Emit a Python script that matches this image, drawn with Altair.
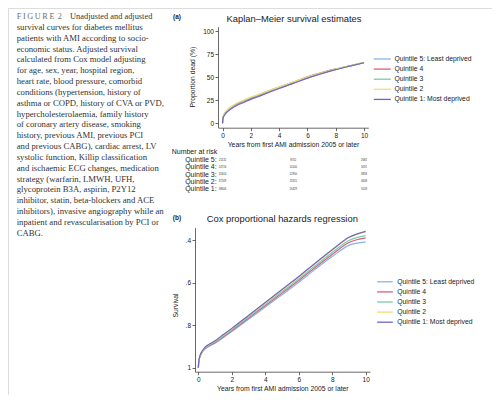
import altair as alt
import pandas as pd

# ---------------- text ----------------
caption_head = "F\u2009I\u2009G\u2009U\u2009R\u2009E\u2009\u20092"
caption_first = "Unadjusted and adjusted"
caption_lines = [
    "survival curves for diabetes mellitus",
    "patients with AMI according to socio-",
    "economic status. Adjusted survival",
    "calculated from Cox model adjusting",
    "for age, sex, year, hospital region,",
    "heart rate, blood pressure, comorbid",
    "conditions (hypertension, history of",
    "asthma or COPD, history of CVA or PVD,",
    "hypercholesterolaemia, family history",
    "of coronary artery disease, smoking",
    "history, previous AMI, previous PCI",
    "and previous CABG), cardiac arrest, LV",
    "systolic function, Killip classification",
    "and ischaemic ECG changes, medication",
    "strategy (warfarin, LMWH, UFH,",
    "glycoprotein B3A, aspirin, P2Y12",
    "inhibitor, statin, beta-blockers and ACE",
    "inhibitors), invasive angiography while an",
    "inpatient and revascularisation by PCI or",
    "CABG.",
]
title_a = "Kaplan\u2013Meier survival estimates"
title_b = "Cox proportional hazards regression"
xtitle = "Years from first AMI admission 2005 or later"

quintiles = ["Quintile 5: Least deprived", "Quintile 4", "Quintile 3",
             "Quintile 2", "Quintile 1: Most deprived"]
colors = ["#84b5ea", "#d8607e", "#7bcba6", "#f2dd76", "#7366c0"]

# ---------------- KM (proportion dead, %) ----------------
km_t = [0, 0.01, 0.05, 0.1, 0.2, 0.35, 0.5, 0.75, 1, 1.5, 2, 2.5, 3, 4, 5, 6, 7, 8, 9, 10]
km_q5 = [0, 3, 6.8, 8.7, 11.2, 13.7, 15.7, 18.1, 20.3, 23.6, 26.9, 29.6, 32.6, 38.4, 43.7, 49.2, 54.0, 58.3, 62.1, 65.7]
km_q4 = [0, 3, 7.1, 9.2, 11.8, 14.3, 16.3, 18.8, 21.0, 24.3, 27.6, 30.3, 33.4, 39.2, 44.6, 50.3, 54.9, 58.9, 62.4, 65.8]
km_q3 = [0, 3, 7.2, 9.3, 11.9, 14.5, 16.6, 19.1, 21.3, 24.6, 27.9, 30.6, 33.6, 39.3, 44.5, 49.9, 54.5, 58.7, 62.3, 66.0]
km_q2 = [0, 3, 7.3, 9.5, 12.2, 14.8, 16.9, 19.4, 21.7, 25.0, 28.3, 31.0, 33.9, 39.5, 44.7, 50.0, 54.7, 58.8, 62.4, 65.9]
km_q1 = [0, 2.5, 6.0, 7.8, 10.2, 12.6, 14.5, 17.0, 19.2, 22.5, 25.9, 28.7, 31.8, 37.7, 43.2, 48.9, 53.8, 58.1, 61.9, 65.6]

# ---------------- Cox adjusted survival ----------------
cox_t = [0, 0.02, 0.05, 0.1, 0.2, 0.35, 0.5, 0.75, 1, 1.5, 2, 3, 4, 5, 6, 7, 8, 9, 10]
cox_q5 = [1, 0.976, 0.962, 0.948, 0.931, 0.916, 0.906, 0.895, 0.885, 0.858, 0.830, 0.772, 0.715, 0.657, 0.598, 0.536, 0.477, 0.424, 0.408]
cox_q4 = [1, 0.976, 0.961, 0.946, 0.929, 0.914, 0.903, 0.892, 0.881, 0.854, 0.825, 0.766, 0.708, 0.649, 0.590, 0.527, 0.467, 0.411, 0.389]
cox_q3 = [1, 0.975, 0.960, 0.945, 0.928, 0.912, 0.901, 0.889, 0.878, 0.850, 0.821, 0.761, 0.702, 0.642, 0.582, 0.519, 0.458, 0.401, 0.378]
cox_q2 = [1, 0.975, 0.959, 0.944, 0.926, 0.910, 0.898, 0.886, 0.874, 0.845, 0.816, 0.755, 0.695, 0.634, 0.573, 0.509, 0.447, 0.388, 0.361]
cox_q1 = [1, 0.975, 0.959, 0.943, 0.926, 0.909, 0.897, 0.885, 0.873, 0.844, 0.815, 0.754, 0.693, 0.632, 0.571, 0.507, 0.445, 0.386, 0.358]

# ---------------- Number at risk ----------------
risk_labels = ["Quintile 5:", "Quintile 4:", "Quintile 3:", "Quintile 2:", "Quintile 1:"]
risk_times = [0, 5, 10]
risk_q5 = [21132, 8702, 2682]
risk_q4 = [24716, 10100, 3091]
risk_q3 = [31604, 12900, 3858]
risk_q2 = [37209, 15315, 4608]
risk_q1 = [38606, 16329, 5018]

# ---------------- tables ----------------
def long(ts, series):
    rows = []
    for q, vals in zip(quintiles, series):
        for t, v in zip(ts, vals):
            rows.append({"t": t, "v": v, "q": q})
    return pd.DataFrame(rows)

km_df = long(km_t, [km_q5, km_q4, km_q3, km_q2, km_q1])
cox_df = long(cox_t, [cox_q5, cox_q4, cox_q3, cox_q2, cox_q1])
risk_rows = []
for lab, vals in zip(risk_labels, [risk_q5, risk_q4, risk_q3, risk_q2, risk_q1]):
    for t, n in zip(risk_times, vals):
        risk_rows.append({"row": lab, "t": t, "n": str(n)})
risk_df = pd.DataFrame(risk_rows)
lab_df = pd.DataFrame({"row": risk_labels})
one = pd.DataFrame({"a": [0]})

FONT = "Liberation Sans"
SERIF = "Liberation Serif"
AX = dict(domainColor="#444", tickColor="#444", domainWidth=0.8, tickWidth=0.8,
          tickSize=3, labelFontSize=6.5, labelColor="#222", labelPadding=1.5,
          labelFont=FONT, titleFont=FONT, titleFontSize=6.8, titleFontWeight="normal",
          titleColor="#222", grid=False, labelFlush=False, labelOverlap=False,
          titleAlign="center", titleBaseline="middle")

def legend(x, y, size, off, rowpad):
    return alt.Legend(orient="none", legendX=x, legendY=y, title=None,
                      symbolType="M-1.8,0L1.8,0", symbolSize=size, symbolStrokeWidth=1.3,
                      labelFontSize=6.8, labelFont=FONT, labelColor="#222",
                      labelOffset=off, rowPadding=rowpad, padding=0)

# ---------------- layers ----------------
cap_head = alt.Chart(one).mark_text(align="left", baseline="alphabetic", font=SERIF,
                                    fontSize=8.2, color="#6e6e6e").encode(
    x=alt.value(8.7), y=alt.value(11.2), text=alt.value(caption_head))
cap_first = alt.Chart(one).mark_text(align="left", baseline="alphabetic", font=SERIF,
                                     fontSize=8.4, color="#333").encode(
    x=alt.value(62), y=alt.value(11.2), text=alt.value(caption_first))
cap_rest = alt.Chart(one).mark_text(align="left", baseline="alphabetic", font=SERIF,
                                    fontSize=8.7, lineHeight=10.83, color="#333").encode(
    x=alt.value(8.7), y=alt.value(22.0), text=alt.value(caption_lines))

def ttl(txt, x, y, size=9.4, bold=False):
    return alt.Chart(one).mark_text(align="center", baseline="middle", font=FONT, fontSize=size,
                                    fontWeight="bold" if bold else "normal", color="#222").encode(
        x=alt.value(x), y=alt.value(y), text=alt.value(txt))

t_a = ttl(title_a, 286, 11.3)
t_b = ttl(title_b, 274.3, 211.3)
lab_a = ttl("(a)", 169, 8.7, 6.5, True)
lab_b = ttl("(b)", 169, 210.3, 6.5, True)

km = alt.Chart(km_df).mark_line(strokeWidth=1.2, interpolate="monotone").encode(
    x=alt.X("t:Q", scale=alt.Scale(domain=[-0.3, 10.3], range=[210.3, 360.3], nice=False, zero=False),
            axis=alt.Axis(orient="bottom", offset=-267.3, values=[0, 2, 4, 6, 8, 10],
                          title=xtitle, titleX=285, titleY=16.3, **AX)),
    y=alt.Y("v:Q", scale=alt.Scale(domain=[-4.8, 104.7], range=[119.7, 18.7], nice=False, zero=False),
            axis=alt.Axis(orient="left", offset=-210, values=[0, 25, 50, 75, 100],
                          title="Proportion dead (%)", titleX=-25.3, titleY=68.7, titleAngle=270, **AX)),
    color=alt.Color("q:N", scale=alt.Scale(domain=quintiles, range=colors), sort=quintiles,
                    legend=legend(368.8, 45.5, 90, 6.7, 0.1)),
)

cox = alt.Chart(cox_df).mark_line(strokeWidth=1.2, interpolate="monotone").encode(
    x=alt.X("t:Q", scale=alt.Scale(domain=[-0.2, 10.26], range=[187, 362], nice=False, zero=False),
            axis=alt.Axis(orient="bottom", offset=-23.3, values=[0, 2, 4, 6, 8, 10],
                          title=xtitle, titleX=274.3, titleY=16.6, **AX)),
    y=alt.Y("v:Q", scale=alt.Scale(domain=[0.341, 1.019], range=[219.7, 363.7], nice=False, zero=False),
            axis=alt.Axis(orient="left", offset=-187, values=[0.4, 0.6, 0.8, 1],
                          labelExpr="datum.value == 1 ? '1' : replace(format(datum.value, '.1f'), '0.', '.')",
                          title="Survival", titleX=-20, titleY=297, titleAngle=270, **AX)),
    color=alt.Color("q:N", scale=alt.Scale(domain=quintiles, range=colors), sort=quintiles,
                    legend=legend(371.5, 268.3, 76, 6.8, 0.1)),
)

risk_num = alt.Chart(risk_df).mark_text(align="center", baseline="middle", font=FONT, fontSize=2.7,
                                        color="#333").encode(
    x=alt.X("t:Q", scale=alt.Scale(domain=[-0.3, 10.3], range=[210.3, 360.3], nice=False, zero=False), axis=None),
    y=alt.Y("row:N", scale=alt.Scale(type="point", domain=risk_labels, range=[152, 181], padding=0), axis=None),
    text="n:N",
)
risk_lab = alt.Chart(lab_df).mark_text(align="right", baseline="middle", font=FONT, fontSize=7,
                                       color="#222").encode(
    x=alt.value(208.7),
    y=alt.Y("row:N", scale=alt.Scale(type="point", domain=risk_labels, range=[152, 181], padding=0), axis=None),
    text="row:N",
)
risk_head = alt.Chart(one).mark_text(align="left", baseline="middle", font=FONT, fontSize=7,
                                     color="#222").encode(
    x=alt.value(163.7), y=alt.value(143.7), text=alt.value("Number at risk"))

chart = alt.layer(
    cap_head, cap_first, cap_rest, t_a, t_b, lab_a, lab_b,
    km, cox, risk_num, risk_lab, risk_head,
).resolve_scale(x="independent", y="independent", color="independent").properties(
    width=484, height=387, padding=0, autosize=alt.AutoSizeParams(type="none"),
).configure_view(stroke=None).configure(font=FONT)

chart.save("out.html", embed_options={"renderer": "svg", "actions": False})
